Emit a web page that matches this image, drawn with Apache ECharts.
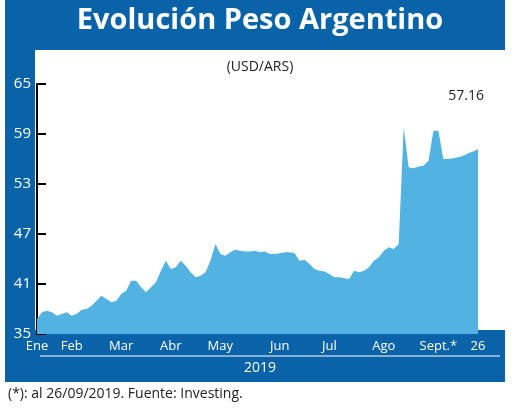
<!DOCTYPE html>
<html><head><meta charset="utf-8">
<script src="https://cdn.jsdelivr.net/npm/echarts@6/dist/echarts.min.js"></script>
<style>html,body{margin:0;padding:0;background:#fff}#c{width:520px;height:408px}</style>
</head><body><div id="c"></div>
<script>
const values = [36.8,37.6,37.8,37.6,37.2,37.4,37.6,37.2,37.4,37.9,38.0,38.4,39.0,39.6,39.2,38.8,39.0,39.8,40.2,41.4,41.4,40.6,40.0,40.6,41.2,42.6,43.8,42.8,43.0,43.8,43.2,42.4,41.8,42.0,42.4,43.8,45.8,44.6,44.4,44.8,45.1,45.0,44.9,44.9,45.0,44.8,44.9,44.6,44.6,44.7,44.8,44.8,44.7,43.8,43.9,43.4,42.8,42.6,42.5,42.2,41.8,41.8,41.7,41.6,42.6,42.4,42.6,43.0,43.8,44.2,45.0,45.4,45.2,45.8,59.8,55.0,54.9,55.1,55.2,55.8,59.4,59.4,56.0,56.0,56.1,56.2,56.4,56.7,56.9,57.16];
const monthLabels = {0:'Ene',7:'Feb',17:'Mar',27:'Abr',37:'May',49:'Jun',59:'Jul',70:'Ago',81:'Sept.*',89:'26'};
const categories = values.map((v,i)=> monthLabels[i] || '');
const yTicks = [35,41,47,53,59,65];
const BLUE = '#0a63a8';
const chart = echarts.init(document.getElementById('c'));
chart.setOption({
  animation:false,
  textStyle:{fontFamily:'Open Sans'},
  graphic:[
    {type:'rect',z:-10,shape:{x:5,y:0,width:500,height:50},style:{fill:BLUE}},
    {type:'rect',z:-10,shape:{x:5,y:50,width:30,height:332},style:{fill:BLUE}},
    {type:'rect',z:-10,shape:{x:5,y:330,width:500,height:52},style:{fill:BLUE}},
    {type:'text',left:'center',top:6,style:{text:'Evolución Peso Argentino',fill:'#fff',font:'bold 29px "Open Sans"'}},
    {type:'text',left:'center',top:60,style:{text:'(USD/ARS)',fill:'#222',font:'14px "Open Sans"'}},
    {type:'text',right:36,top:89,style:{text:'57.16',fill:'#222',font:'14px "Open Sans"'}},
    {type:'line',shape:{x1:40,y1:356,x2:500,y2:356},style:{stroke:'#fff',lineWidth:1}},
    {type:'text',left:'center',top:361,style:{text:'2019',fill:'#fff',font:'14px "Open Sans"'}},
    {type:'text',left:8,top:387,style:{text:'(*): al 26/09/2019. Fuente: Investing.',fill:'#222',font:'14px "Open Sans"'}}
  ],
  grid:{left:37,right:42,top:84,bottom:74},
  xAxis:{type:'category',data:categories,boundaryGap:false,
    axisLine:{show:false},axisTick:{show:false},
    axisLabel:{interval:0,color:'#fff',fontSize:13,margin:6}},
  yAxis:{type:'value',min:35,max:65,interval:6,
    axisLine:{show:true,lineStyle:{color:'#000',width:2}},
    axisTick:{show:true,inside:true,length:9,lineStyle:{color:'#000',width:2}},
    splitLine:{show:false},
    axisLabel:{color:'#fff',fontSize:15,margin:6}},
  series:[{type:'line',data:values,symbol:'none',lineStyle:{width:0},
    areaStyle:{color:'#52b3e2',opacity:1}}]
});
</script></body></html>
